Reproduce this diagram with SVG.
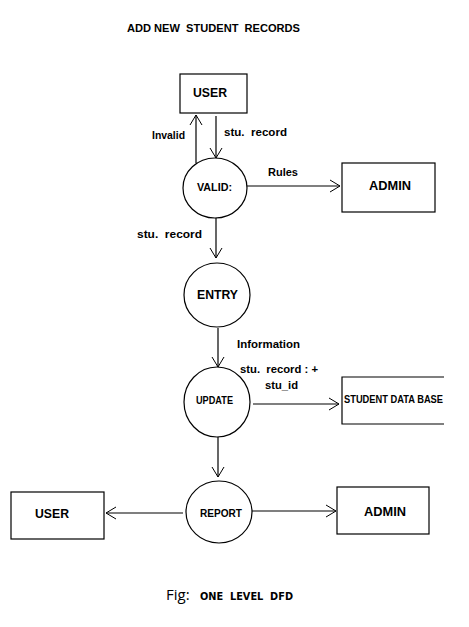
<svg xmlns="http://www.w3.org/2000/svg" width="469" height="627" viewBox="0 0 469 627">
<defs>
<marker id="arr" viewBox="0 0 12 14" refX="11" refY="7" markerWidth="12" markerHeight="14" markerUnits="userSpaceOnUse" orient="auto">
<path d="M1,1 L11,7 L1,13" fill="none" stroke="#000" stroke-width="1"/>
</marker>
</defs>
<style>
.box{fill:#fff;stroke:#000;stroke-width:1.2}
.proc{fill:#fff;stroke:#000;stroke-width:1.2}
.t{font-family:"Liberation Sans",Arial,sans-serif;font-weight:bold;fill:#000}
.lbl{font-size:11px}
.big{font-size:13px}
.sm{font-size:10px}
.conn line{stroke:#000;stroke-width:1.2;marker-end:url(#arr)}
</style>
<rect width="469" height="627" fill="#fff"/>
<text class="t lbl" x="127" y="32" textLength="173" lengthAdjust="spacingAndGlyphs" xml:space="preserve">ADD NEW  STUDENT  RECORDS</text>

<g id="conns" class="conn">
<line x1="196" y1="163" x2="196" y2="115"/>
<line x1="216" y1="116" x2="216" y2="158"/>
<line x1="247" y1="186" x2="340" y2="186"/>
<line x1="216" y1="218" x2="216" y2="258"/>
<line x1="218" y1="328" x2="218" y2="367"/>
<line x1="253" y1="404" x2="339" y2="404"/>
<line x1="218" y1="437" x2="218" y2="477"/>
<line x1="183" y1="513" x2="106" y2="513"/>
<line x1="252" y1="511" x2="336" y2="511"/>
<g class="t lbl">
<text x="152" y="139" textLength="33" lengthAdjust="spacingAndGlyphs">Invalid</text>
<text x="224" y="136" textLength="63" lengthAdjust="spacingAndGlyphs" xml:space="preserve">stu.  record</text>
<text x="268" y="176" textLength="30" lengthAdjust="spacingAndGlyphs">Rules</text>
<text x="137" y="238" textLength="65" lengthAdjust="spacingAndGlyphs" xml:space="preserve">stu.  record</text>
<text x="237" y="348" textLength="63" lengthAdjust="spacingAndGlyphs">Information</text>
<text x="240" y="373" textLength="78" lengthAdjust="spacingAndGlyphs" xml:space="preserve">stu.  record : +</text>
<text x="265" y="389" textLength="33" lengthAdjust="spacingAndGlyphs">stu_id</text>
</g>
</g>

<g id="user-top">
<rect class="box" x="180" y="74" width="67" height="39"/>
<text class="t big" x="193" y="97" textLength="34" lengthAdjust="spacingAndGlyphs">USER</text>
</g>
<g id="valid">
<ellipse class="proc" cx="215" cy="188" rx="32" ry="30"/>
<text class="t sm" x="197" y="191" textLength="35" lengthAdjust="spacingAndGlyphs">VALID:</text>
</g>
<g id="admin-top">
<rect class="box" x="342" y="163" width="93" height="49"/>
<text class="t big" x="369" y="190" textLength="42" lengthAdjust="spacingAndGlyphs">ADMIN</text>
</g>
<g id="entry">
<ellipse class="proc" cx="217" cy="295" rx="33" ry="32"/>
<text class="t big" x="197" y="299" textLength="41" lengthAdjust="spacingAndGlyphs">ENTRY</text>
</g>
<g id="update">
<ellipse class="proc" cx="217" cy="402" rx="33" ry="35"/>
<text class="t sm" x="196" y="404" textLength="37" lengthAdjust="spacingAndGlyphs">UPDATE</text>
</g>
<g id="student-db">
<path d="M444,377 L342,377 L342,424 L444,424" fill="#fff" stroke="#000" stroke-width="1.2"/>
<text class="t sm" x="344" y="403" textLength="99" lengthAdjust="spacingAndGlyphs">STUDENT DATA BASE</text>
</g>
<g id="report">
<ellipse class="proc" cx="219" cy="512" rx="33" ry="31"/>
<text class="t sm" x="200" y="517" textLength="42" lengthAdjust="spacingAndGlyphs">REPORT</text>
</g>
<g id="user-bottom">
<rect class="box" x="11" y="492" width="93" height="47"/>
<text class="t big" x="35" y="518" textLength="34" lengthAdjust="spacingAndGlyphs">USER</text>
</g>
<g id="admin-bottom">
<rect class="box" x="337" y="487" width="92" height="47"/>
<text class="t big" x="364" y="516" textLength="42" lengthAdjust="spacingAndGlyphs">ADMIN</text>
</g>

<text x="166" y="600" font-family="'Open Sans','Noto Sans',sans-serif" font-size="15" fill="#000">Fig:</text>
<text x="200" y="600" font-family="'DejaVu Sans',sans-serif" font-size="10" font-weight="bold" fill="#000" textLength="93" lengthAdjust="spacingAndGlyphs" xml:space="preserve">ONE  LEVEL  DFD</text>
</svg>
